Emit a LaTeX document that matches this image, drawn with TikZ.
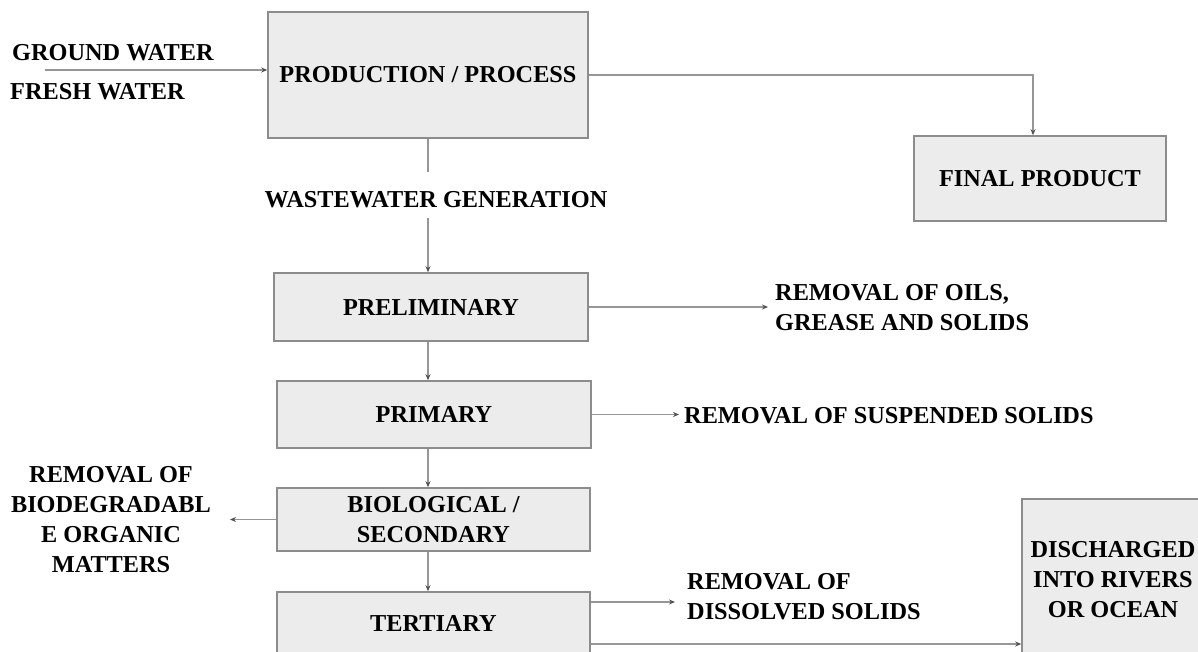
\documentclass[tikz,border=0pt]{standalone}
\usepackage{fontspec}
\setmainfont{Liberation Serif}
\usetikzlibrary{arrows.meta,calc}

\definecolor{boxfill}{RGB}{236,236,236}
\definecolor{boxline}{RGB}{140,140,140}
\definecolor{wire}{RGB}{150,150,150}
\definecolor{tipcol}{RGB}{80,80,80}

\tikzset{
  stage/.style={draw=boxline, line width=1.6pt, fill=boxfill, inner sep=0pt,
    align=center, font=\fontsize{24.3}{30}\selectfont\bfseries},
  label/.style={inner sep=0pt, font=\fontsize{24.3}{30}\selectfont\bfseries},
  wireline/.style={draw=wire, line width=1.3pt},
  flow/.style={wireline, -{Stealth[length=6pt,width=5pt,color=tipcol]}},
}

\begin{document}
\begin{tikzpicture}[x=1pt,y=-1pt]
\useasboundingbox (0,0) rectangle (1198,652);
\clip (0,0) rectangle (1198,652);

% process stages
\node[stage, minimum width=320pt, minimum height=126pt] (prod) at (428,75) {PRODUCTION / PROCESS};
\node[stage, minimum width=252pt, minimum height=85pt] (fin) at (1040,178.5) {FINAL PRODUCT};
\node[stage, minimum width=314pt, minimum height=68pt] (pre) at (431,307) {PRELIMINARY};
\node[stage, minimum width=314pt, minimum height=67pt] (pri) at (434,414.5) {PRIMARY};
\node[stage, minimum width=313pt, minimum height=63pt] (bio) at (433.5,519.5) {BIOLOGICAL /\\SECONDARY};
\node[stage, minimum width=313pt, minimum height=62pt] (ter) at (433.5,623) {TERTIARY};
\node[stage, minimum width=182pt, minimum height=161pt] (dis) at (1113,579.5) {DISCHARGED\\INTO RIVERS\\OR OCEAN};

% free texts
\node[label, anchor=west] (gw) at (12,53) {GROUND WATER};
\node[label, anchor=west] (fw) at (10,92) {FRESH WATER};
\node[label] (ww) at (436,200) {WASTEWATER GENERATION};
\node[label, anchor=west, align=left] (oil) at (775,308) {REMOVAL OF OILS,\\GREASE AND SOLIDS};
\node[label, anchor=west] (sus) at (684,416) {REMOVAL OF SUSPENDED SOLIDS};
\node[label, align=center] (org) at (111,520) {REMOVAL OF\\BIODEGRADABL\\E ORGANIC\\MATTERS};
\node[label, anchor=west, align=left] (dso) at (687,597) {REMOVAL OF\\DISSOLVED SOLIDS};

% connector end points
\coordinate (src) at (45,70);
\coordinate (wwa) at (428,172);
\coordinate (wwb) at (428,218);
\coordinate (oilend) at (768,307);
\coordinate (susend) at (679,414.5);
\coordinate (orgend) at (230,519.5);
\coordinate (dsoend) at (675,602);

% connectors
\draw[flow] (src) -- (src -| prod.west);
\draw[flow] (prod.east) -| ([xshift=-7pt]fin.north);
\draw[wireline] (prod.south -| wwa) -- (wwa);
\draw[flow] (wwb) -- (wwb |- pre.north);
\draw[flow] (pre.east) -- (oilend);
\draw[flow] (pre.south -| wwa) -- (wwa |- pri.north);
\draw[flow] (pri.east) -- (susend);
\draw[flow] (pri.south -| wwa) -- (wwa |- bio.north);
\draw[flow] (bio.west) -- (orgend);
\draw[flow] (bio.south -| wwa) -- (wwa |- ter.north);
\draw[flow] (ter.east |- dsoend) -- (dsoend);
\draw[flow] (ter.east |- 0,644) -- (dis.west |- 0,644);
\end{tikzpicture}
\end{document}
